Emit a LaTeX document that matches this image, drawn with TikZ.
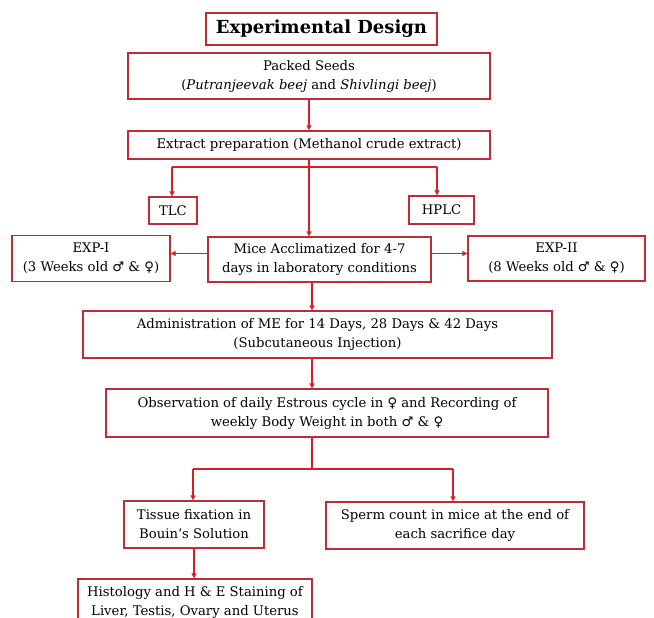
\documentclass[tikz,border=0pt]{standalone}
\usepackage{fontspec}
\setmainfont{DejaVu Serif}
\newfontfamily\symfont{DejaVu Sans}
\usetikzlibrary{arrows.meta}
\definecolor{boxred}{RGB}{188,45,55}
\definecolor{linered}{RGB}{214,32,38}
\newcommand{\msym}{{\symfont ♂}}
\newcommand{\fsym}{{\symfont ♀}}
\tikzset{
  stage/.style={draw=boxred, line width=1.3pt, align=center, inner sep=0pt, font=\fontsize{13.2}{19}\selectfont},
  flow/.style={-{Triangle[length=5pt,width=5pt]}, line width=1.1pt, draw=linered},
  branch/.style={-, line width=1.1pt, draw=linered},
}
\begin{document}
\begin{tikzpicture}[x=1pt,y=-1pt]
\useasboundingbox (0,0) rectangle (654,618);
\clip (0,0) rectangle (654,618);
% boxes
\node[stage, minimum width=231, minimum height=32, font=\fontsize{18}{20}\selectfont\bfseries] (title) at (321.5,29) {Experimental Design};
\node[stage, minimum width=362, minimum height=46] (seeds) at (309,76) {Packed Seeds\\(\textit{Putranjeevak beej} and \textit{Shivlingi beej})};
\node[stage, minimum width=362, minimum height=28] (extract) at (309,145) {Extract preparation (Methanol crude extract)};
\node[stage, minimum width=48, minimum height=27] (tlc) at (173,210.5) {TLC};
\node[stage, minimum width=65, minimum height=28] (hplc) at (441.5,210) {HPLC};
\node[stage, minimum width=158, minimum height=46] (exp1) at (91,258.5) {EXP-I\\(3 Weeks old \msym{} \& \fsym)};
\node[stage, minimum width=223, minimum height=45] (mice) at (319.5,259.5) {Mice Acclimatized for 4-7\\days in laboratory conditions};
\node[stage, minimum width=177, minimum height=45] (exp2) at (556.5,258.5) {EXP-II\\(8 Weeks old \msym{} \& \fsym)};
\node[stage, minimum width=469, minimum height=47] (admin) at (317.5,334.5) {Administration of ME for 14 Days, 28 Days \& 42 Days\\(Subcutaneous Injection)};
\node[stage, minimum width=442, minimum height=48] (obs) at (327,413) {Observation of daily Estrous cycle in \fsym{} and Recording of\\weekly Body Weight in both \msym{} \& \fsym};
\node[stage, minimum width=140, minimum height=47] (tissue) at (194,524.5) {Tissue fixation in\\Bouin’s Solution};
\node[stage, minimum width=258, minimum height=47] (sperm) at (455,525.5) {Sperm count in mice at the end of\\each sacrifice day};
\node[stage, minimum width=234, minimum height=46] (histo) at (195,602) {Histology and H \& E Staining of\\Liver, Testis, Ovary and Uterus};
% branch points
\coordinate (tlcin) at (172,167);
\coordinate (hplcin) at (437,167);
\coordinate (split2) at (312,469);
\coordinate (tissuein) at (193,469);
\coordinate (spermin) at (453,469);
% connectors
\draw[flow] (seeds.south) -- (extract.north);
\draw[branch] (tlcin) -- (hplcin);
\draw[flow] (extract.south) -- (extract.south |- mice.north);
\draw[flow] (tlcin) -- (tlcin |- tlc.north);
\draw[flow] (hplcin) -- (hplcin |- hplc.north);
\draw[flow] ([yshift=6pt]mice.west) -- ([yshift=6pt]mice.west -| exp1.east);
\draw[flow] ([yshift=6pt]mice.east) -- ([yshift=6pt]mice.east -| exp2.west);
\draw[flow] (split2 |- mice.south) -- (split2 |- admin.north);
\draw[flow] (split2 |- admin.south) -- (split2 |- obs.north);
\draw[branch] (split2 |- obs.south) -- (split2);
\draw[branch] (tissuein) -- (spermin);
\draw[flow] (tissuein) -- (tissuein |- tissue.north);
\draw[flow] (spermin) -- (spermin |- sperm.north);
\draw[flow] (tissue.south) -- (tissue.south |- histo.north);
\end{tikzpicture}
\end{document}
